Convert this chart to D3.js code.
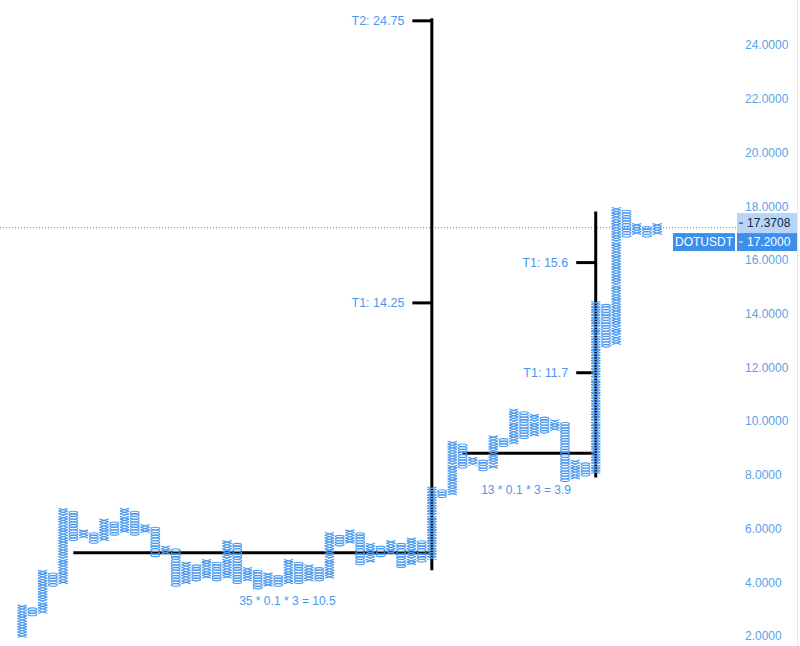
<!DOCTYPE html>
<html>
<head>
<meta charset="utf-8">
<script src="https://cdnjs.cloudflare.com/ajax/libs/d3/7.8.5/d3.min.js"></script>
<style>
  html, body { margin: 0; padding: 0; background: #fff; }
  svg { display: block; font-family: "Liberation Sans", Arial, sans-serif; }
</style>
</head>
<body>
<svg id="chart"></svg>
<script>
// point & figure columns, box 0.1, reversal 3
const colType = ["X","O","X","O","X","O","X","O","X","O","X","O","X","O","X","O","X","O","X","O",
                 "X","O","X","O","X","O","X","O","X","O","X","O","X","O","X","O","X","O","X","O",
                 "X","O","X","O","X","O","X","O","X","O","X","O","X","O","X","O","X","O","X","O",
                 "X","O","X"];
const colLow  = [2.0,2.8,2.9,3.9,4.0,5.6,5.7,5.5,5.6,5.8,5.9,5.8,5.9,5.0,5.1,3.9,4.0,4.1,4.2,4.1,
                 4.2,4.0,4.1,3.8,3.9,3.9,4.0,4.0,4.1,4.1,4.2,5.4,5.5,4.7,4.8,5.0,5.1,4.6,4.7,4.8,
                 4.9,7.2,7.3,8.3,8.4,8.2,8.3,9.1,9.2,9.4,9.5,9.6,9.7,7.8,7.9,8.0,8.1,12.8,12.9,16.9,
                 17.0,16.9,17.0];
const colHigh = [3.1,3.0,4.4,4.3,6.7,6.6,5.9,5.8,6.3,6.2,6.7,6.6,6.1,6.0,5.3,5.2,4.7,4.6,4.8,4.7,
                 5.5,5.4,4.5,4.4,4.3,4.2,4.8,4.7,4.6,4.5,5.8,5.7,5.9,5.8,5.4,5.3,5.5,5.4,5.6,5.5,
                 7.5,7.4,9.2,9.1,8.6,8.5,9.4,9.3,10.4,10.3,10.2,10.1,10.0,9.9,8.5,8.4,14.4,14.3,17.9,17.8,
                 17.3,17.2,17.3];
const boxSize = 0.1;

// horizontal counts and their vertical target lines
const countFrom   = [5, 43];
const countTo     = [40, 56];
const countLevel  = [5.1, 8.8];
const countTop    = [25.0, 17.8];
const countBottom = [4.45, 7.9];
const countText   = ["35 * 0.1 * 3 = 10.5", "13 * 0.1 * 3 = 3.9"];
const countTextCol   = [25.9, 49.2];
const countTextLevel = [3.3, 7.44];

// target ticks
const targetCol   = [40, 40, 56, 56];
const targetLevel = [24.9, 14.4, 15.9, 11.8];
const targetText  = ["T2: 24.75", "T1: 14.25", "T1: 15.6", "T1: 11.7"];

const yTicks = [2,4,6,8,10,12,14,16,18,20,22,24];
const lastPrice = 17.2;
const crossPrice = 17.3708;
const symbol = "DOTUSDT";

const width = 800, height = 646;
const blue = "#4a98ee";

const svg = d3.select("#chart").attr("width", width).attr("height", height);

const x = d3.scaleBand().domain(d3.range(colType.length)).range([17, 662.3]).padding(0);
const y = d3.scaleLinear().domain([2, 24]).range([636, 45]);
const bw = x.bandwidth();
// column centre, also for fractional column positions
const colPos = d3.scaleLinear().domain([0, colType.length - 1]).range([x(0) + bw / 2, x(colType.length - 1) + bw / 2]);
const cx = i => colPos(i);
const boxH = Math.abs(y(boxSize) - y(0));

// last price dotted line
svg.append("line")
  .attr("x1", 0).attr("x2", 737)
  .attr("y1", y(lastPrice)).attr("y2", y(lastPrice))
  .attr("stroke", "#2a9bb0").attr("stroke-width", 1)
  .attr("stroke-dasharray", "1,2");

// count lines
const lines = svg.append("g").attr("stroke", "#000").attr("stroke-width", 3);
countFrom.forEach((f, i) => {
  lines.append("line")
    .attr("x1", cx(f)).attr("x2", cx(countTo[i]))
    .attr("y1", y(countLevel[i])).attr("y2", y(countLevel[i]));
  lines.append("line")
    .attr("x1", cx(countTo[i])).attr("x2", cx(countTo[i]))
    .attr("y1", y(countTop[i])).attr("y2", y(countBottom[i]));
});
targetCol.forEach((c, i) => {
  lines.append("line")
    .attr("x1", cx(c) - 2 * bw + 1).attr("x2", cx(c))
    .attr("y1", y(targetLevel[i])).attr("y2", y(targetLevel[i]));
  svg.append("text")
    .attr("x", cx(c) - 2 * bw - 7).attr("y", y(targetLevel[i]))
    .attr("dy", "0.35em").attr("text-anchor", "end")
    .attr("fill", blue).style("font-size", "12.5px")
    .text(targetText[i]);
});
countText.forEach((t, i) => {
  svg.append("text")
    .attr("x", cx(countTextCol[i])).attr("y", y(countTextLevel[i]))
    .attr("dy", "0.35em").attr("text-anchor", "middle")
    .attr("fill", blue).style("font-size", "12px")
    .text(t);
});

// columns of X and O
const cols = svg.append("g").attr("fill", "none").attr("stroke", blue).attr("stroke-width", 1.1);
colType.forEach((t, i) => {
  const n = Math.round((colHigh[i] - colLow[i]) / boxSize) + 1;
  const x0 = x(i) + 0.5, x1 = x(i) + bw - 0.5;
  d3.range(n).forEach(k => {
    const v = colLow[i] + k * boxSize;
    const yt = y(v + boxSize / 2), yb = y(v - boxSize / 2);
    if (t === "X") {
      cols.append("path")
        .attr("d", `M${x0},${yt}L${x1},${yb}M${x1},${yt}L${x0},${yb}`);
    } else {
      cols.append("ellipse")
        .attr("cx", cx(i)).attr("cy", y(v))
        .attr("rx", bw / 2 - 0.7).attr("ry", boxH / 2 - 0.1);
    }
  });
});

// right price axis
svg.append("line")
  .attr("x1", 797.5).attr("x2", 797.5).attr("y1", 0).attr("y2", height)
  .attr("stroke", "#dfe7f1");

const axis = svg.append("g")
  .attr("transform", "translate(737,0)")
  .call(d3.axisRight(y).tickValues(yTicks).tickSize(0).tickPadding(8).tickFormat(d3.format(".4f")));
axis.select(".domain").remove();
axis.selectAll("text")
  .attr("fill", "#5c9fe8")
  .style("font-size", "12px")
  .style("font-family", "'Liberation Sans', Arial, sans-serif");

// crosshair price label
const cy1 = y(crossPrice);
svg.append("rect").attr("x", 737).attr("y", cy1 - 10).attr("width", 60).attr("height", 20)
  .attr("fill", "#b8d5f5");
svg.append("line").attr("x1", 739).attr("x2", 743).attr("y1", cy1).attr("y2", cy1)
  .attr("stroke", "#0f2747");
svg.append("text").attr("x", 747).attr("y", cy1).attr("dy", "0.35em")
  .attr("fill", "#0f2747").style("font-size", "12px").text(d3.format(".4f")(crossPrice));

// last price label (pushed under the crosshair label)
const ly = cy1 + 19;
svg.append("rect").attr("x", 737).attr("y", ly - 9).attr("width", 60).attr("height", 18)
  .attr("fill", "#3e8fe9");
svg.append("rect").attr("x", 673).attr("y", ly - 9).attr("width", 62).attr("height", 18)
  .attr("fill", "#3e8fe9");
svg.append("line").attr("x1", 739).attr("x2", 743).attr("y1", ly).attr("y2", ly)
  .attr("stroke", "#fff");
svg.append("text").attr("x", 747).attr("y", ly).attr("dy", "0.35em")
  .attr("fill", "#fff").style("font-size", "12px").text(d3.format(".4f")(lastPrice));
svg.append("text").attr("x", 704).attr("y", ly).attr("dy", "0.35em")
  .attr("text-anchor", "middle")
  .attr("fill", "#fff").style("font-size", "12px").text(symbol);
</script>
</body>
</html>
